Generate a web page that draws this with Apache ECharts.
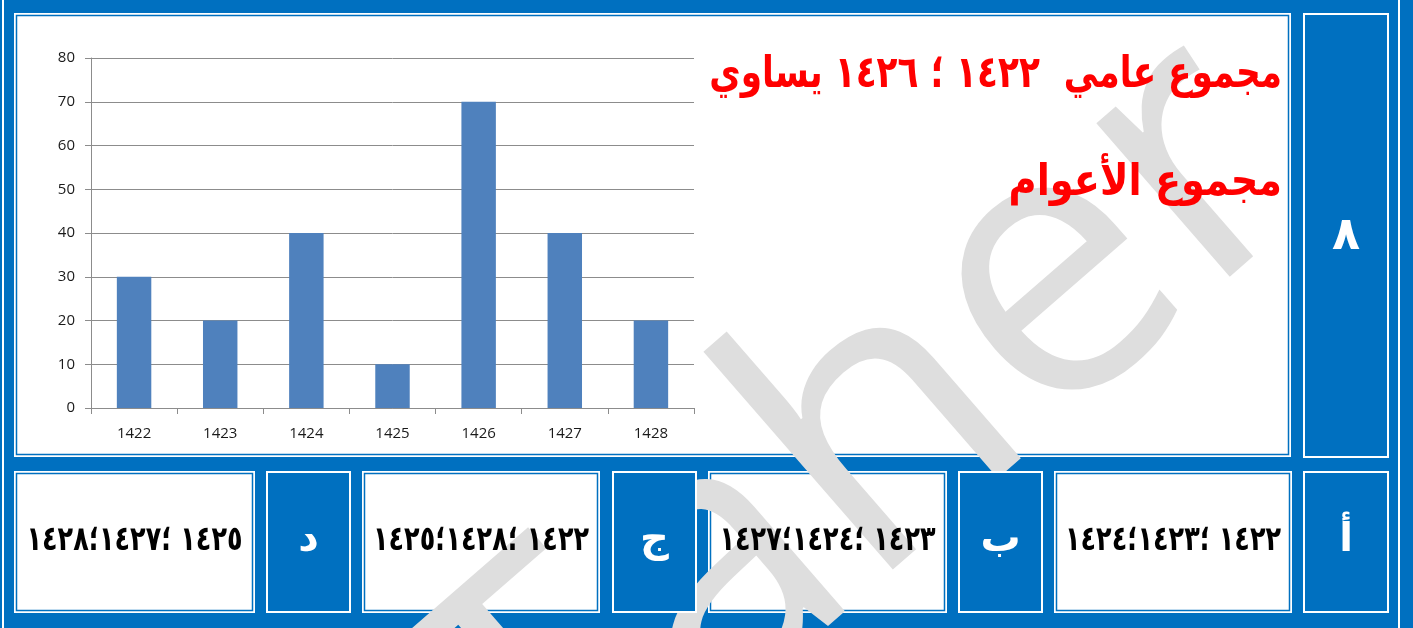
<!DOCTYPE html>
<html>
<head>
<meta charset="utf-8">
<script src="https://cdn.jsdelivr.net/npm/echarts@6/dist/echarts.min.js"></script>
<style>
  html, body { margin: 0; padding: 0; background: #0070c0; }
  #chart { width: 1413px; height: 628px; }
</style>
</head>
<body>
<div id="chart"></div>
<script>
// bar chart data
const years = ['1422', '1423', '1424', '1425', '1426', '1427', '1428'];
const values = [30, 20, 40, 10, 70, 40, 20];

// question text
const questionLine1 = 'مجموع عامي  ١٤٢٢ ؛ ١٤٢٦ يساوي';
const questionLine2 = 'مجموع الأعوام';
const questionNumber = '٨';

// answer choices, right to left: أ ب ج د
const choiceLetters = ['أ', 'ب', 'ج', 'د'];
const choiceTexts = ['١٤٢٢ ؛١٤٢٣؛١٤٢٤', '١٤٢٣ ؛١٤٢٤؛١٤٢٧', '١٤٢٢ ؛١٤٢٨؛١٤٢٥', '١٤٢٥ ؛١٤٢٧؛١٤٢٨'];

const BLUE = '#0070c0';
const arabicFont = '"DejaVu Sans", sans-serif';

// white panel with a thin blue inner line
const panel = (x, y, w, h) => [
  { type: 'rect', z: 1, shape: { x, y, width: w, height: h }, style: { fill: '#fff' } },
  { type: 'rect', z: 1, shape: { x: x + 2.5, y: y + 2.5, width: w - 5, height: h - 5 },
    style: { fill: null, stroke: BLUE, lineWidth: 1.5 } },
]
// blue label cell with white border
const cell = (x, y, w, h) => [
  { type: 'rect', z: 3, shape: { x: x + 1, y: y + 1, width: w - 2, height: h - 2 },
    style: { fill: BLUE, stroke: '#fff', lineWidth: 2 } },
]
// bold arabic text, squeezed horizontally (scaleX) to the reference width
const label = (x, y, text, size, color, align, sx) => ({
  type: 'text', z: 4, x, y, scaleX: sx || 1,
  style: {
    text, fill: color, align: align || 'center', verticalAlign: 'middle',
    font: `bold ${size}px ${arabicFont}`,
  },
})

// bottom row boxes, left to right
const answerBoxes = [[14, 241], [362, 238], [708, 239], [1054, 238]];
const letterCells = [[266, 85], [612, 85], [958, 85], [1303, 86]];
const rowTop = 471;
const rowH = 142;

const graphics = [
  { type: 'rect', z: 0, shape: { x: 2, y: 0, width: 2, height: 628 }, style: { fill: '#fff' } },
  { type: 'rect', z: 0, shape: { x: 1398, y: 0, width: 2, height: 628 }, style: { fill: '#fff' } },
  ...panel(14, 13, 1277, 444),
  ...cell(1303, 13, 86, 445),
]
answerBoxes.forEach(([x, w]) => graphics.push(...panel(x, rowTop, w, rowH)))
letterCells.forEach(([x, w]) => graphics.push(...cell(x, rowTop, w, rowH)))

// watermark
graphics.push({
  type: 'text', z: 2, x: 480, y: 785, rotation: 41 * Math.PI / 180,
  style: { text: 'Taher', fill: '#dedede', font: '500 380px "Open Sans", sans-serif',
    align: 'left', verticalAlign: 'middle' },
})

graphics.push(label(1282, 76, questionLine1, 44, '#ff0000', 'right', 0.78))
graphics.push(label(1282, 184, questionLine2, 44, '#ff0000', 'right', 0.87))
graphics.push(label(1346, 237, questionNumber, 46, '#fff'))

const letterOrder = [3, 2, 1, 0]; // د ج ب أ from left
letterOrder.forEach((k, i) => {
  const [bx, bw] = answerBoxes[i];
  const [cx, cw] = letterCells[i];
  graphics.push(label(bx + bw / 2, 541, choiceTexts[k], 34, '#000', 'center', 0.75))
  graphics.push(label(cx + cw / 2, 541, choiceLetters[k], 40, '#fff'))
})

const chart = echarts.init(document.getElementById('chart'))
chart.setOption({
  backgroundColor: BLUE,
  animation: false,
  graphic: graphics,
  grid: { left: 91, top: 58, width: 603, height: 350, z: 5 },
  xAxis: {
    type: 'category',
    data: years,
    z: 5,
    axisLine: { lineStyle: { color: '#8c8c8c', width: 1 } },
    axisTick: { show: true, length: 6, lineStyle: { color: '#8c8c8c' } },
    axisLabel: { margin: 18, color: '#1a1a1a', fontSize: 15, fontFamily: 'Open Sans' },
  },
  yAxis: {
    type: 'value',
    min: 0,
    max: 80,
    interval: 10,
    z: 5,
    axisLine: { show: true, lineStyle: { color: '#8c8c8c' } },
    axisTick: { show: true, length: 6, lineStyle: { color: '#8c8c8c' } },
    axisLabel: { margin: 16, color: '#1a1a1a', fontSize: 15, fontFamily: 'Open Sans' },
    splitLine: { lineStyle: { color: '#8c8c8c', width: 1 } },
  },
  series: [
    {
      type: 'bar',
      z: 6,
      data: values,
      barWidth: '40%',
      itemStyle: { color: '#4f81bd' },
    },
  ],
})
</script>
</body>
</html>
